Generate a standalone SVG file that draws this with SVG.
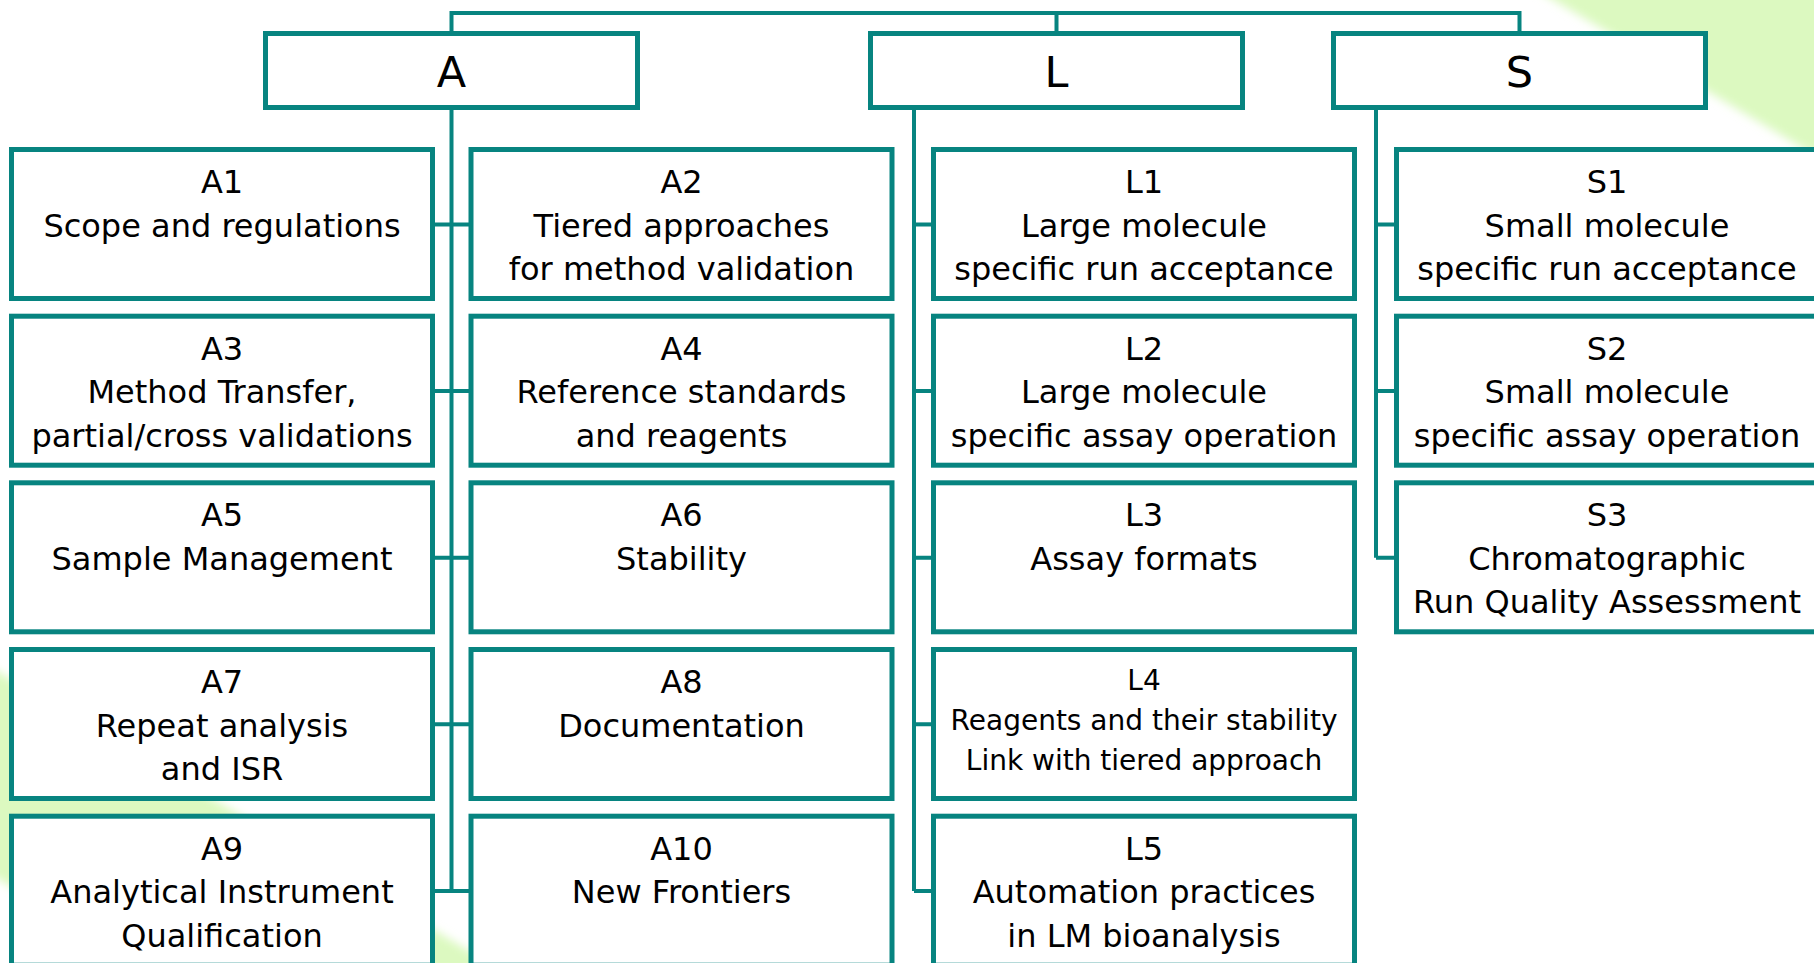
<svg xmlns="http://www.w3.org/2000/svg" width="1814" height="963" viewBox="0 0 1814 963">
<style>
.box{fill:#fff;stroke:#078480;stroke-width:5}
.conn{fill:none;stroke:#078480;stroke-width:4}
.t{font-family:"DejaVu Sans",Verdana,sans-serif;font-size:32px;text-anchor:middle;fill:#000}
.h{font-size:43px}
.s{font-size:28px}
.bg{fill:#dcf9c0}
</style>
<defs>
<filter id="soft" x="-20%" y="-20%" width="140%" height="140%">
<feGaussianBlur stdDeviation="5"/>
</filter>
</defs>
<rect width="1814" height="963" fill="#fff"/>
<polygon class="bg" filter="url(#soft)" points="1530,-14 1840,-14 1840,170"/>
<polygon class="bg" filter="url(#soft)" points="-20,661 520,981 170,981 -20,868"/>

<g id="connectors">
<path class="conn" d="M451.5 31 V13 H1519.5 V31 M1056.5 13 V31"/>
<path class="conn" d="M451.5 110 V891 M914 110 V891 M1376 110 V557.7"/>
<path class="conn" d="M435 224.5 H469 M435 391 H469 M435 557.7 H469 M435 724.3 H469 M435 891 H469"/>
<path class="conn" d="M914 224.5 H931 M914 391 H931 M914 557.7 H931 M914 724.3 H931 M914 891 H931"/>
<path class="conn" d="M1376 224.5 H1394 M1376 391 H1394 M1376 557.7 H1394"/>
</g>

<g id="A"><rect class="box" x="265.5" y="33.5" width="372" height="74"/><text class="t h" x="451.5" y="86.5">A</text></g>
<g id="L"><rect class="box" x="870.5" y="33.5" width="372" height="74"/><text class="t h" x="1056.5" y="86.5">L</text></g>
<g id="S"><rect class="box" x="1333.5" y="33.5" width="372" height="74"/><text class="t h" x="1519.5" y="86.5">S</text></g>

<g id="A1"><rect class="box" x="11.5" y="149.5" width="421" height="149"/><text class="t" x="222" y="193">A1</text><text class="t" x="222" y="236.5">Scope and regulations</text></g>
<g id="A2"><rect class="box" x="471" y="149.5" width="421" height="149"/><text class="t" x="681.5" y="193">A2</text><text class="t" x="681.5" y="236.5">Tiered approaches</text><text class="t" x="681.5" y="280">for method validation</text></g>
<g id="A3"><rect class="box" x="11.5" y="316.2" width="421" height="149"/><text class="t" x="222" y="359.7">A3</text><text class="t" x="222" y="403.2">Method Transfer,</text><text class="t" x="222" y="446.7">partial/cross validations</text></g>
<g id="A4"><rect class="box" x="471" y="316.2" width="421" height="149"/><text class="t" x="681.5" y="359.7">A4</text><text class="t" x="681.5" y="403.2">Reference standards</text><text class="t" x="681.5" y="446.7">and reagents</text></g>
<g id="A5"><rect class="box" x="11.5" y="482.8" width="421" height="149"/><text class="t" x="222" y="526.3">A5</text><text class="t" x="222" y="569.8">Sample Management</text></g>
<g id="A6"><rect class="box" x="471" y="482.8" width="421" height="149"/><text class="t" x="681.5" y="526.3">A6</text><text class="t" x="681.5" y="569.8">Stability</text></g>
<g id="A7"><rect class="box" x="11.5" y="649.5" width="421" height="149"/><text class="t" x="222" y="693">A7</text><text class="t" x="222" y="736.5">Repeat analysis</text><text class="t" x="222" y="780">and ISR</text></g>
<g id="A8"><rect class="box" x="471" y="649.5" width="421" height="149"/><text class="t" x="681.5" y="693">A8</text><text class="t" x="681.5" y="736.5">Documentation</text></g>
<g id="A9"><rect class="box" x="11.5" y="816.2" width="421" height="149"/><text class="t" x="222" y="859.7">A9</text><text class="t" x="222" y="903.2">Analytical Instrument</text><text class="t" x="222" y="946.7">Qualification</text></g>
<g id="A10"><rect class="box" x="471" y="816.2" width="421" height="149"/><text class="t" x="681.5" y="859.7">A10</text><text class="t" x="681.5" y="903.2">New Frontiers</text></g>

<g id="L1"><rect class="box" x="933.5" y="149.5" width="421" height="149"/><text class="t" x="1144" y="193">L1</text><text class="t" x="1144" y="236.5">Large molecule</text><text class="t" x="1144" y="280">specific run acceptance</text></g>
<g id="L2"><rect class="box" x="933.5" y="316.2" width="421" height="149"/><text class="t" x="1144" y="359.7">L2</text><text class="t" x="1144" y="403.2">Large molecule</text><text class="t" x="1144" y="446.7">specific assay operation</text></g>
<g id="L3"><rect class="box" x="933.5" y="482.8" width="421" height="149"/><text class="t" x="1144" y="526.3">L3</text><text class="t" x="1144" y="569.8">Assay formats</text></g>
<g id="L4"><rect class="box" x="933.5" y="649.5" width="421" height="149"/><text class="t s" x="1144" y="690">L4</text><text class="t s" x="1144" y="730">Reagents and their stability</text><text class="t s" x="1144" y="770">Link with tiered approach</text></g>
<g id="L5"><rect class="box" x="933.5" y="816.2" width="421" height="149"/><text class="t" x="1144" y="859.7">L5</text><text class="t" x="1144" y="903.2">Automation practices</text><text class="t" x="1144" y="946.7">in LM bioanalysis</text></g>

<g id="S1"><rect class="box" x="1396.5" y="149.5" width="421" height="149"/><text class="t" x="1607" y="193">S1</text><text class="t" x="1607" y="236.5">Small molecule</text><text class="t" x="1607" y="280">specific run acceptance</text></g>
<g id="S2"><rect class="box" x="1396.5" y="316.2" width="421" height="149"/><text class="t" x="1607" y="359.7">S2</text><text class="t" x="1607" y="403.2">Small molecule</text><text class="t" x="1607" y="446.7">specific assay operation</text></g>
<g id="S3"><rect class="box" x="1396.5" y="482.8" width="421" height="149"/><text class="t" x="1607" y="526.3">S3</text><text class="t" x="1607" y="569.8">Chromatographic</text><text class="t" x="1607" y="613.3">Run Quality Assessment</text></g>
</svg>
